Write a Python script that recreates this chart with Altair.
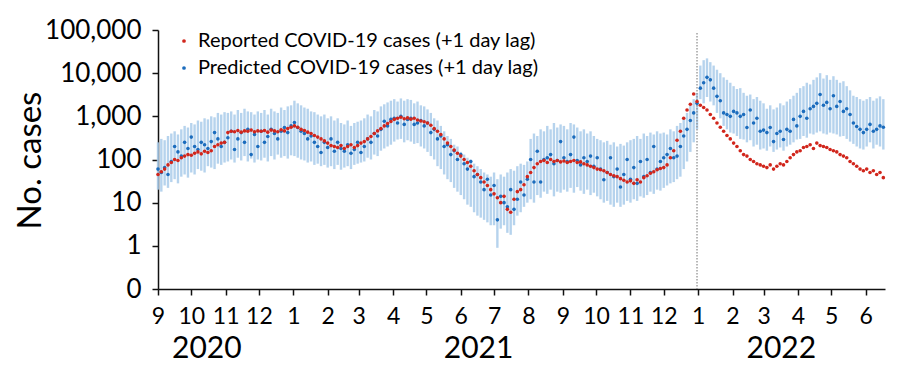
import altair as alt
import pandas as pd

START = "2020-09-01"
STEP_DAYS = 3

# Reported COVID-19 cases, one value every 3 days from 2020-09-01
reported = [
    45, 52, 60, 75, 85, 100, 95, 110, 120, 130,                 # 2020-09
    125, 140, 150, 135, 155, 145, 160, 200, 220, 240, 250,      # 2020-10
    420, 450, 440, 470, 430, 460, 450, 480, 440, 460,           # 2020-11
    450, 470, 430, 480, 460, 440, 490, 460, 520, 560,           # 2020-12
    600, 560, 500, 470, 430, 400, 360, 330, 300, 270,           # 2021-01
    240, 210, 200, 190, 210, 180, 200, 220, 190, 210,           # 2021-02
    240, 260, 300, 340, 400, 460, 520, 600, 680, 760,           # 2021-03
    850, 900, 950, 880, 920, 860, 900, 820, 780, 750,           # 2021-04
    700, 620, 520, 450, 380, 300, 240, 200, 165, 140,           # 2021-05
    120, 100, 85, 70, 55, 45, 38, 30, 25, 20,                   # 2021-06
    16, 13, 10, 14, 7, 6, 12, 18, 20, 26, 40,                   # 2021-07
    50, 65, 80, 90, 95, 85, 100, 90, 95, 88,                    # 2021-08
    92, 85, 90, 95, 85, 88, 80, 75, 70, 65,                     # 2021-09
    60, 58, 55, 50, 45, 42, 40, 36, 33, 30,                     # 2021-10
    32, 28, 34, 30, 38, 42, 48, 52, 58, 62,                     # 2021-11
    65, 75, 110, 160, 280, 450, 900, 1400, 1900, 3300, 2200,    # 2021-12
    1800, 1600, 1400, 1100, 900, 700, 560, 450, 360, 300,       # 2022-01
    240, 200, 160, 130, 120, 100, 90, 80, 75,                   # 2022-02
    70, 65, 75, 60, 70, 80, 75, 90, 110, 130, 150,              # 2022-03
    160, 190, 200, 220, 180, 240, 210, 200, 190, 170,           # 2022-04
    160, 150, 130, 120, 110, 90, 80, 70, 60, 55,                # 2022-05
    60, 50, 55, 45, 50, 38,                                     # 2022-06
]

# Predicted COVID-19 cases (point estimate)
predicted = [
    60, 50, 65, 45, 90, 200, 150, 120, 250, 180,
    330, 200, 170, 250, 220, 180, 260, 420, 300, 200, 250,
    320, 450, 170, 300, 420, 250, 500, 130, 380, 200,
    450, 250, 340, 500, 400, 300, 450, 550, 420, 600,
    720, 550, 450, 400, 300, 350, 250, 200, 145, 250,
    190, 300, 155, 250, 180, 155, 220, 140, 170, 250,
    145, 200, 300, 250, 400, 350, 500, 770, 600, 850,
    900, 700, 1000, 650, 850, 900, 650, 700, 800, 600,
    700, 420, 500, 300, 350, 200, 220, 130, 160, 100,
    130, 80, 60, 90, 40, 45, 30, 20, 35, 15,
    25, 4, 14, 10, 8, 20, 7, 12, 30, 15, 35,
    100, 30, 155, 30, 100, 110, 130, 80, 95, 260,
    110, 90, 130, 330, 95, 75, 110, 90, 120, 70,
    110, 60, 34, 50, 110, 40, 60, 23, 45, 100,
    35, 65, 28, 90, 40, 100, 50, 200, 60, 90,
    110, 130, 180, 110, 120, 200, 350, 500, 800, 1200, 2000,
    4500, 6000, 8000, 7000, 4500, 2900, 2300, 1200, 1100, 1000,
    1300, 1200, 1000, 1100, 550, 1400, 700, 900, 450,
    480, 420, 550, 260, 400, 450, 290, 500, 450, 850, 600,
    1000, 1300, 900, 1500, 1700, 2000, 3200, 1800, 2100, 1500,
    3000, 1700, 2200, 1300, 1500, 1100, 700, 580, 500, 420,
    500, 650, 450, 500, 600, 560,
]

# Lower end of the prediction interval
pred_low = [
    20, 18, 25, 22, 30, 35, 28, 40, 45, 38,
    50, 45, 60, 55, 50, 70, 65, 60, 80, 75, 85,
    90, 100, 85, 110, 95, 120, 90, 105, 85, 100,
    95, 110, 90, 120, 100, 130, 110, 120, 105, 125,
    120, 110, 100, 95, 85, 90, 75, 80, 70, 75,
    65, 70, 60, 75, 58, 65, 70, 60, 75, 80,
    85, 90, 110, 100, 130, 120, 160, 180, 200, 220,
    260, 290, 300, 250, 280, 260, 230, 240, 200, 180,
    150, 120, 100, 70, 60, 45, 35, 30, 22, 18,
    15, 12, 9, 8, 6, 5, 4.5, 4, 3.5, 3,
    3, 0.9, 2.5, 3, 2, 1.8, 3, 5, 6, 8, 10,
    12, 10, 15, 13, 18, 16, 20, 14, 18, 17,
    20, 18, 22, 17, 23, 19, 16, 20, 15, 17,
    14, 12, 10, 11, 9, 8, 10, 8, 9, 11,
    10, 12, 11, 14, 13, 15, 18, 16, 20, 19,
    22, 25, 28, 30, 35, 40, 60, 90, 150, 250, 500,
    2500, 2000, 2800, 2200, 1800, 1200, 900, 600, 500, 420,
    400, 350, 300, 290, 250, 280, 200, 220, 170,
    180, 160, 200, 150, 170, 190, 160, 200, 220, 250, 290,
    300, 350, 320, 400, 380, 420, 450, 400, 380, 420,
    400, 380, 340, 350, 300, 260, 230, 200, 180, 170,
    200, 250, 180, 220, 200, 170,
]

# Upper end of the prediction interval
pred_high = [
    250, 300, 280, 350, 400, 450, 380, 500, 600, 550,
    700, 650, 800, 750, 900, 850, 1000, 950, 1200, 1100, 1250,
    1200, 1300, 1100, 1400, 1200, 1500, 1300, 1250, 1100, 1300,
    1200, 1400, 1100, 1500, 1300, 1200, 1600, 1400, 1700, 1800,
    2300, 2000, 1800, 1600, 1500, 1300, 1250, 1100, 1000, 1100,
    900, 1000, 800, 900, 700, 650, 800, 600, 700, 750,
    800, 900, 1100, 1000, 1400, 1300, 1700, 1900, 2100, 2300,
    2500, 2200, 2600, 2300, 2500, 2400, 2000, 2200, 1800, 1700,
    1450, 1200, 900, 800, 600, 450, 350, 300, 220, 200,
    150, 130, 110, 100, 80, 70, 60, 50, 45, 40,
    50, 35, 45, 40, 50, 60, 55, 70, 80, 75, 90,
    300, 400, 350, 500, 450, 600, 500, 700, 550, 650,
    600, 500, 700, 650, 550, 450, 500, 400, 450, 350,
    300, 280, 250, 270, 220, 250, 200, 230, 210, 250,
    280, 300, 350, 300, 400, 350, 420, 380, 450, 400,
    420, 380, 500, 450, 600, 700, 900, 1200, 1800, 2500, 3500,
    15000, 20000, 22000, 18000, 15000, 12000, 10000, 8000, 7000, 6000,
    5000, 4300, 4500, 3500, 3000, 3200, 2500, 2800, 2300,
    2000, 1500, 1800, 1450, 1600, 2000, 1800, 2200, 2500, 3000, 3500,
    4500, 5000, 6000, 5500, 7000, 8000, 10000, 7500, 9000, 7000,
    8500, 7000, 6000, 6500, 5000, 4000, 3000, 2800, 2500, 2300,
    2500, 2800, 2300, 2600, 2900, 2500,
]

series_names = ["Reported COVID-19 cases (+1 day lag)",
                "Predicted COVID-19 cases (+1 day lag)"]
series_colors = ["#d1261c", "#1b6cbd"]
bar_color = "#a9cbea"
y_ticks = [0.1, 1, 10, 100, 1000, 10000, 100000]
year_labels = ["2020", "2021", "2022"]
year_label_dates = ["2020-10-15", "2021-06-17", "2022-03-17"]
divider_dates = ["2021-12-31"]

n = min(len(reported), len(predicted), len(pred_low), len(pred_high))
dates = pd.date_range(START, periods=n, freq=f"{STEP_DAYS}D").strftime("%Y-%m-%d")

points = pd.concat([
    pd.DataFrame({"date": dates, "value": predicted[:n], "series": series_names[1]}),
    pd.DataFrame({"date": dates, "value": reported[:n], "series": series_names[0]}),
], ignore_index=True)
bars = pd.DataFrame({"date": dates, "low": pred_low[:n], "high": pred_high[:n]})
years = pd.DataFrame({"date": year_label_dates, "label": year_labels})
divider = pd.DataFrame({"date": divider_dates})

FONT = "Lato"

x_scale = alt.Scale(
    type="utc",
    domain=[alt.DateTime(year=2020, month=9, date=1, utc=True),
            alt.DateTime(year=2022, month=6, date=18, hours=12, utc=True)],
)
x_axis = alt.Axis(
    title=None,
    labelExpr="utcFormat(datum.value, '%-m')",
    tickCount={"interval": "month", "step": 1},
    labelFontSize=23, labelFont=FONT, labelColor="#000000",
    tickSize=6, tickColor="#111111", tickWidth=1.5,
    domainColor="#111111", domainWidth=1.5,
    labelPadding=10, grid=False, labelOverlap=False, labelFlush=False,
)
x_enc = alt.X("date:T", scale=x_scale, axis=x_axis)

y_scale = alt.Scale(type="log", domain=[0.1, 100000])
y_axis = alt.Axis(
    title="No. cases", values=y_ticks,
    labelExpr="datum.value < 0.5 ? '0' : format(datum.value, ',')",
    labelFontSize=26, labelFont=FONT, labelColor="#000000",
    tickSize=6, tickColor="#111111", tickWidth=1.5,
    domainColor="#111111", domainWidth=1.5, labelPadding=11,
    titleFontSize=33, titleFont=FONT, titleFontWeight="normal",
    titleColor="#000000", titleX=-111, titleY=130, grid=False,
)

err = alt.Chart(bars).mark_rule(color=bar_color, strokeWidth=2.4, opacity=0.85).encode(
    x=x_enc,
    y=alt.Y("low:Q", scale=y_scale, axis=y_axis),
    y2="high:Q",
)

pts = alt.Chart(points).mark_circle(size=13, opacity=1).encode(
    x=x_enc,
    y=alt.Y("value:Q", scale=y_scale, axis=y_axis),
    color=alt.Color(
        "series:N",
        scale=alt.Scale(domain=series_names, range=series_colors),
        legend=alt.Legend(title=None, orient="none", legendX=16, legendY=1,
                          labelFontSize=20, labelFont=FONT, labelColor="#000000",
                          symbolSize=14, symbolType="circle", rowPadding=7,
                          labelOffset=4, padding=0, labelLimit=500),
    ),
)

rule = alt.Chart(divider).mark_rule(color="#8a8a8a", strokeWidth=1.2, strokeDash=[1.5, 1.5]).encode(
    x=x_enc,
    y=alt.value(3),
    y2=alt.value(259),
)

year_text = alt.Chart(years).mark_text(
    fontSize=30, font=FONT, color="#000000", baseline="alphabetic", align="center"
).encode(
    x=x_enc,
    y=alt.value(328),
    text="label:N",
)

chart = alt.layer(err, rule, pts, year_text).properties(
    width=727,
    height=259,
    autosize=alt.AutoSizeParams(type="none"),
    padding={"left": 150, "top": 22, "right": 5, "bottom": 74},
).configure(font=FONT).configure_view(stroke=None)

chart.save("out.html", embed_options={"renderer": "svg", "actions": False})
